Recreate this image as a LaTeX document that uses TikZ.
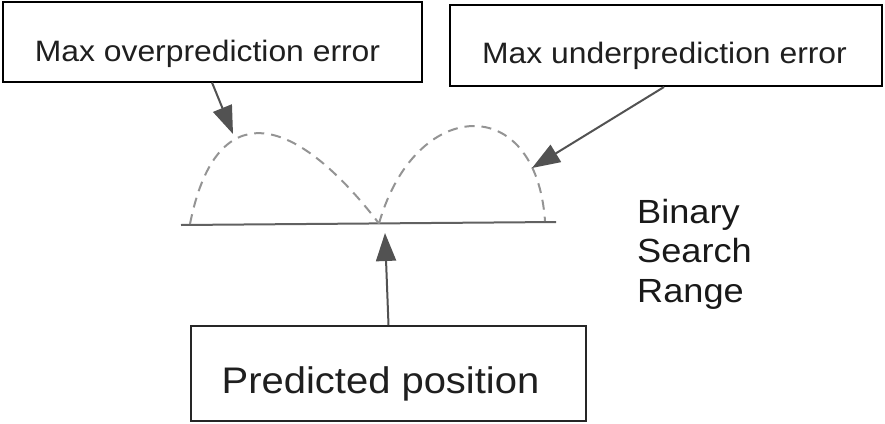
\documentclass[tikz,border=0pt]{standalone}
\usepackage{fontspec}
\setmainfont{Liberation Sans}
\newfontfamily\widesans[FakeStretch=1.08]{Liberation Sans}
\usetikzlibrary{arrows.meta,calc}
\begin{document}
\begin{tikzpicture}[x=1pt,y=-1pt,
  box/.style={draw=black,line width=2pt,inner sep=0pt},
  lbl/.style={inner sep=0pt,anchor=base,text=black!88},
  conn/.style={draw=black!68,line width=2pt,-{Triangle[length=28pt,width=20pt]}},
  err/.style={draw=black!42,line width=2pt,dash pattern=on 10pt off 7pt},
  base/.style={draw=black!62,line width=2pt}]
\useasboundingbox (0,0) rectangle (885,423);
\node[box,minimum width=419pt,minimum height=80pt] (over) at (212.5,41.5) {};
\node[box,minimum width=432pt,minimum height=81pt] (under) at (666,45.5) {};
\node[box,draw=black!85,line width=1.6pt,minimum width=395pt,minimum height=95pt] (pred) at (388.5,373.5) {};
\node[lbl,font=\widesans\fontsize{29.5pt}{34pt}\selectfont] (overtext) at (207.5,61) {Max overprediction error};
\node[lbl,font=\widesans\fontsize{29.5pt}{34pt}\selectfont] (undertext) at (664.5,63) {Max underprediction error};
\node[lbl,font=\widesans\fontsize{37pt}{44pt}\selectfont] (predtext) at (380.5,393) {Predicted position};
\node[align=left,anchor=north west,inner sep=0pt,font=\widesans\fontsize{33.5pt}{39.5pt}\selectfont,text=black!90] (range) at (637,199) {Binary\\Search\\Range};
\coordinate (lineL) at (181,225);
\coordinate (lineR) at (556,222);
\coordinate (mid) at (379,223.5);
\coordinate (arcL) at (190,224);
\coordinate (arcR) at (545,221);
\draw[base] (lineL) -- (lineR);
\draw[err] (arcL) .. controls (215,98) and (290,108) .. (mid);
\draw[err] (mid) .. controls (415,97) and (536,91) .. (arcR);
\coordinate (tip1) at (233,134);
\coordinate (tip2) at (532,168);
\coordinate (tip3) at (385,233);
\draw[conn] ([xshift=210pt]over.south west) -- (tip1);
\draw[conn] ([xshift=215pt]under.south west) -- (tip2);
\draw[conn] (pred.north) -- (tip3);
\end{tikzpicture}
\end{document}
